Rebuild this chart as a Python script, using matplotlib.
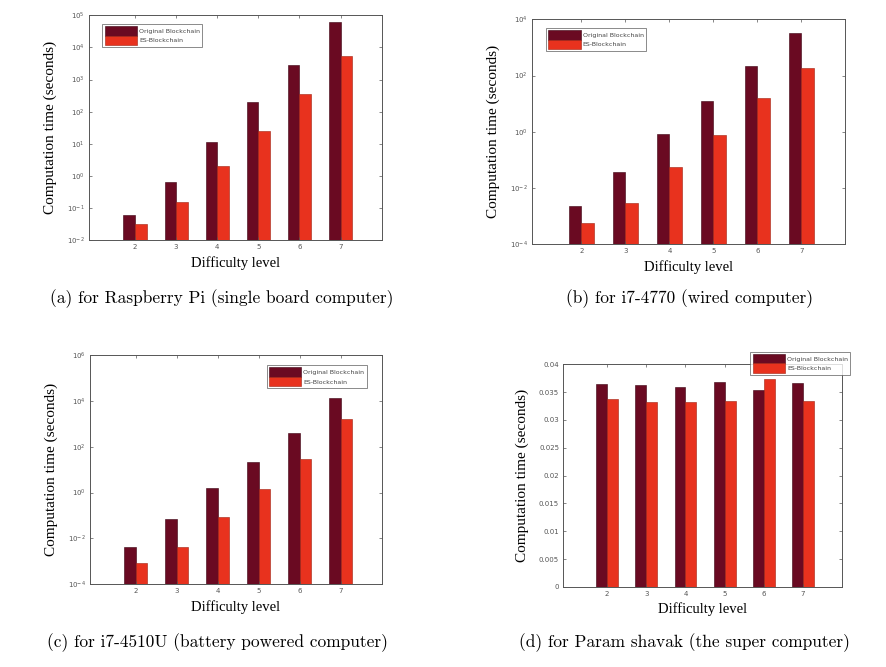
import numpy as np
import matplotlib
matplotlib.use("Agg")
import matplotlib.pyplot as plt
from matplotlib.ticker import FixedLocator, FuncFormatter

levels = [2, 3, 4, 5, 6, 7]
series_names = ["Original Blockchain", "ES-Blockchain"]

# (a) Raspberry Pi
rpi_orig = [0.052, 0.64, 11.0, 202, 2930, 62400]
rpi_es = [0.0225, 0.149, 2.0, 25.3, 358, 5320]
# (b) i7-4770
i7w_orig = [0.00217, 0.038, 0.80, 12.6, 226, 3270]
i7w_es = [0.00047, 0.0029, 0.057, 0.76, 16.5, 187]
# (c) i7-4510U
i7b_orig = [0.0042, 0.067, 1.58, 21.0, 388, 13600]
i7b_es = [0.00077, 0.0039, 0.085, 1.38, 30.0, 1640]
# (d) Param shavak
ps_orig = [0.03653, 0.03623, 0.03593, 0.03689, 0.03545, 0.03665]
ps_es = [0.03371, 0.03323, 0.03323, 0.03341, 0.0373, 0.03341]

captions = [
    "(a) for Raspberry Pi (single board computer)",
    "(b) for i7-4770 (wired computer)",
    "(c) for i7-4510U (battery powered computer)",
    "(d) for Param shavak (the super computer)",
]

c_orig = "#6a0a22"
c_es = "#e8321e"
serif = ["Liberation Serif", "DejaVu Serif"]

fig = plt.figure(figsize=(8.87, 6.67), dpi=100)

panels = [
    # rect, orig, es, log, y-range, ticks, legend anchor
    ([0.1003, 0.640, 0.330, 0.337], rpi_orig, rpi_es, True, (1e-2, 1e5),
     [10.0 ** k for k in range(-2, 6)], (0.035, 0.975)),
    ([0.600, 0.634, 0.353, 0.337], i7w_orig, i7w_es, True, (1e-4, 1e4),
     [10.0 ** k for k in range(-4, 5, 2)], (0.035, 0.975)),
    ([0.1015, 0.1244, 0.329, 0.343], i7b_orig, i7b_es, True, (1e-4, 1e6),
     [10.0 ** k for k in range(-4, 7, 2)], (0.595, 0.97)),
    ([0.635, 0.120, 0.3145, 0.334], ps_orig, ps_es, False, (0, 0.04),
     list(np.arange(0, 0.0401, 0.005)), (0.66, 1.07)),
]

w = 0.28
x = np.array(levels)

for rect, orig, es, is_log, ylim, ticks, legpos in panels:
    ax = fig.add_axes(rect)
    if is_log:
        ax.set_yscale("log")
    ax.bar(x - w / 2, orig, w, color=c_orig, edgecolor="#3a0010", linewidth=0.4,
           label=series_names[0], bottom=ylim[0] if is_log else 0)
    ax.bar(x + w / 2, es, w, color=c_es, edgecolor="#a02010", linewidth=0.4,
           label=series_names[1], bottom=ylim[0] if is_log else 0)
    ax.set_xlim(0.88, 8)
    ax.set_ylim(*ylim)
    ax.set_xticks(levels)
    ax.yaxis.set_major_locator(FixedLocator(ticks))
    ax.yaxis.set_minor_locator(FixedLocator([]))
    if is_log:
        ax.yaxis.set_major_formatter(
            FuncFormatter(lambda v, p: r"$10^{%d}$" % round(np.log10(v))))
    else:
        ax.yaxis.set_major_formatter(
            FuncFormatter(lambda v, p: "0" if v == 0 else ("%.3f" % v).rstrip("0")))
    ax.tick_params(direction="in", length=2.5, width=0.5, labelsize=5,
                   top=True, right=True, colors="#555555", pad=3)
    for s in ax.spines.values():
        s.set_linewidth(0.7)
        s.set_color("#555555")
    ax.set_xlabel("Difficulty level", fontsize=10.5, family=serif, labelpad=4)
    ax.set_ylabel("Computation time (seconds)", fontsize=11, family=serif, labelpad=7)
    leg = ax.legend(loc="upper left", bbox_to_anchor=legpos, fontsize=4.5,
                    frameon=True, fancybox=False, edgecolor="#555555",
                    handlelength=5.2, handleheight=1.9, borderpad=0.35,
                    labelspacing=0.05, handletextpad=0.3)
    leg.get_frame().set_linewidth(0.6)
    for t in leg.get_texts():
        t.set_color("#444444")

cap_pos = [(0.25, 0.553), (0.777, 0.553), (0.245, 0.036), (0.772, 0.036)]
for (cx, cy), txt in zip(cap_pos, captions):
    fig.text(cx, cy, txt, ha="center", va="center", fontsize=12.5,
             family=["cmr10", "DejaVu Serif"])

fig.savefig("out.png", dpi=100)
